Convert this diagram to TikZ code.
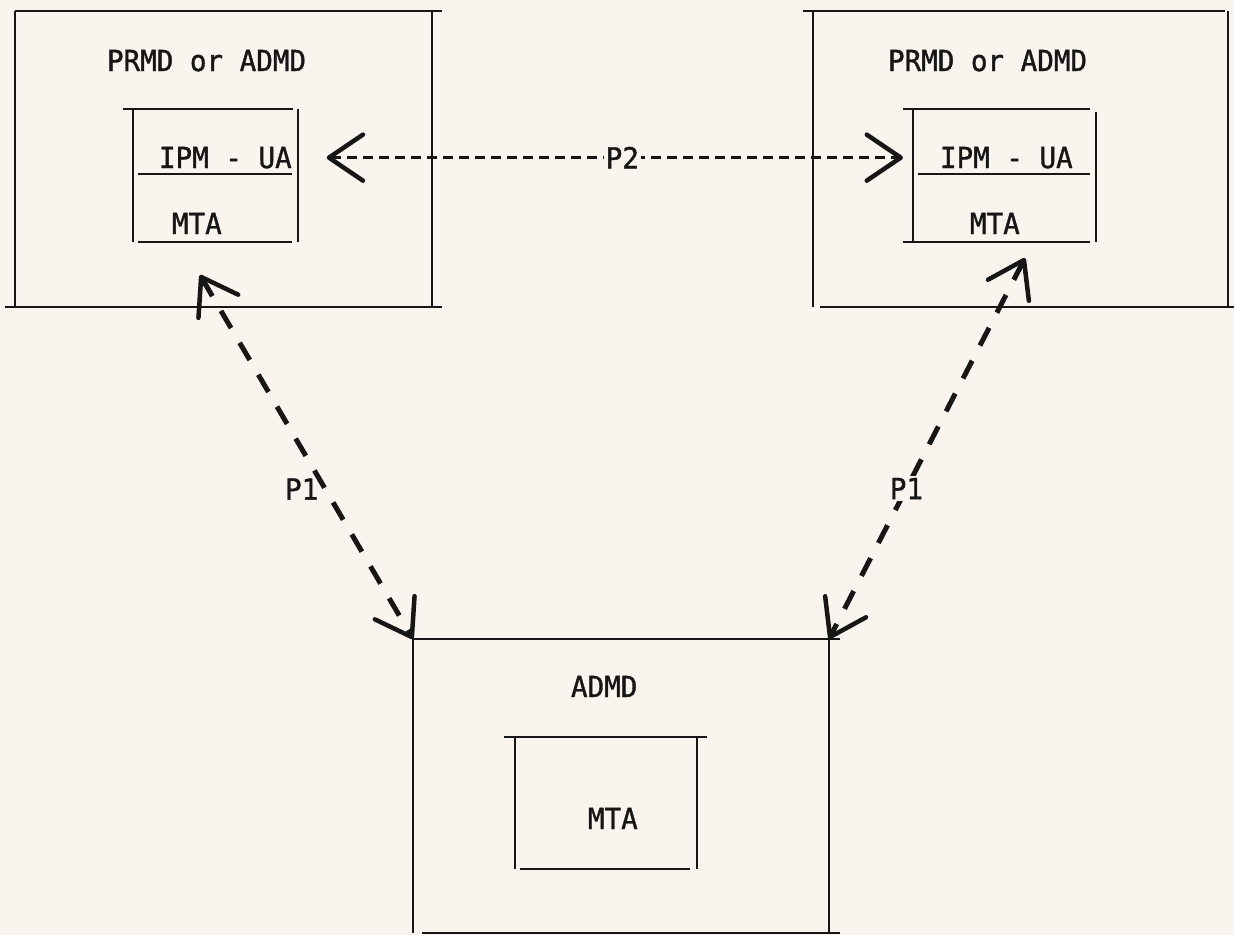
\documentclass[tikz,border=0pt]{standalone}
\usepackage{fontspec}
\newfontfamily\typewriter[FakeStretch=0.95,FakeBold=1.2]{DejaVu Sans Mono}
\usetikzlibrary{arrows.meta,calc}
\definecolor{paper}{RGB}{250,244,239}
\definecolor{ink}{RGB}{22,22,22}

\begin{document}
\begin{tikzpicture}[x=1pt,y=-1pt,
  frame/.style={draw=none, inner sep=0pt, outer sep=0pt, rectangle},
  side/.style={draw=ink, line width=2.8pt},
  txt/.style={inner sep=0pt, outer sep=0pt, text=ink,
    font=\typewriter\fontsize{29}{29}\selectfont, anchor=base west},
  tag/.style={inner sep=0pt, outer sep=0pt, text=ink,
    font=\typewriter\fontsize{29}{29}\selectfont},
  >={Straight Barb[length=34pt,width=46pt,line width=4.5pt,round]},
  pone/.style={draw=ink, line width=5pt, dash pattern=on 20pt off 17pt, <->},
  ptwo/.style={draw=ink, line width=3.5pt, dash pattern=on 10pt off 6pt, <->}
]
% page
\fill[paper] (0,0) rectangle (1234,935);
\useasboundingbox (0,0) rectangle (1234,935);

% domain frames
\node[frame, minimum width=417pt, minimum height=296pt] (lo) at (223.5,159) {};
\node[frame, minimum width=165pt, minimum height=133pt] (li) at (215.5,175.5) {};
\node[frame, minimum width=415pt, minimum height=296pt] (ro) at (1020.5,159) {};
\node[frame, minimum width=183pt, minimum height=133pt] (ri) at (1004.5,175.5) {};
\node[frame, minimum width=416pt, minimum height=294pt] (bo) at (621,786) {};
\node[frame, minimum width=182pt, minimum height=132pt] (bi) at (606,803) {};

% texts
\node[txt] (lt)    at (107,71)  {PRMD or ADMD};
\node[txt] (liua)  at (159,168) {IPM - UA};
\node[txt] (limta) at (172,234) {MTA};
\node[txt] (rt)    at (888,71)  {PRMD or ADMD};
\node[txt] (riua)  at (940,168) {IPM - UA};
\node[txt] (rimta) at (970,234) {MTA};
\node[txt] (bt)    at (571,697) {ADMD};
\node[txt] (bimta) at (588,829) {MTA};

% left outer frame
\draw[side] (lo.north west) -- ([xshift=10pt]lo.north east);
\draw[side] (lo.north west) -- (lo.south west);
\draw[side] (lo.north east) -- (lo.south east);
\draw[side] ([xshift=-10pt]lo.south west) -- ([xshift=10pt]lo.south east);
% left inner frame
\draw[side] ([xshift=-10pt]li.north west) -- ([xshift=-5pt]li.north east);
\draw[side] (li.north west) -- (li.south west);
\draw[side] (li.north east) -- (li.south east);
\draw[side] ([xshift=5pt,yshift=1.5pt]li.west) -- ([xshift=-6pt,yshift=1.5pt]li.east);
\draw[side] ([xshift=5pt]li.south west) -- ([xshift=-6pt]li.south east);

% right outer frame
\draw[side] ([xshift=-10pt]ro.north west) -- ([xshift=-3pt]ro.north east);
\draw[side] (ro.north west) -- (ro.south west);
\draw[side] (ro.north east) -- (ro.south east);
\draw[side] ([xshift=7pt]ro.south west) -- ([xshift=7pt]ro.south east);
% right inner frame
\draw[side] ([xshift=-10pt]ri.north west) -- ([xshift=-6pt]ri.north east);
\draw[side] (ri.north west) -- (ri.south west);
\draw[side] ([yshift=-3pt]ri.north east) -- (ri.south east);
\draw[side] ([xshift=5pt,yshift=1.5pt]ri.west) -- ([xshift=-6pt,yshift=1.5pt]ri.east);
\draw[side] ([xshift=-10pt]ri.south west) -- ([xshift=-6pt]ri.south east);

% bottom outer frame
\draw[side] (bo.north west) -- ([xshift=11pt]bo.north east);
\draw[side] (bo.north west) -- (bo.south west);
\draw[side] (bo.north east) -- (bo.south east);
\draw[side] ([xshift=9pt]bo.south west) -- ([xshift=11pt]bo.south east);
% bottom inner frame
\draw[side] ([xshift=-11pt]bi.north west) -- ([xshift=10pt]bi.north east);
\draw[side] (bi.north west) -- (bi.south west);
\draw[side] (bi.north east) -- (bi.south east);
\draw[side] ([xshift=5pt]bi.south west) -- ([xshift=-7pt]bi.south east);

% P2 between the user agents
\draw[ptwo, shorten <=35pt, shorten >=37pt] (liua.east) --
  node[tag, pos=0.51, fill=paper, inner sep=2pt] {P2} (riua.west);

% P1 links to the central ADMD
\draw[pone] ($(li.south)+(-15.5,33)$) --
  node[tag, pos=0.588, anchor=east, xshift=-7pt] {P1} (bo.north west);
\draw[pone] ($(ri.south)+(20.5,16)$) --
  node[tag, pos=0.605, fill=paper, inner sep=2pt] {P1} (bo.north east);
\end{tikzpicture}
\end{document}
